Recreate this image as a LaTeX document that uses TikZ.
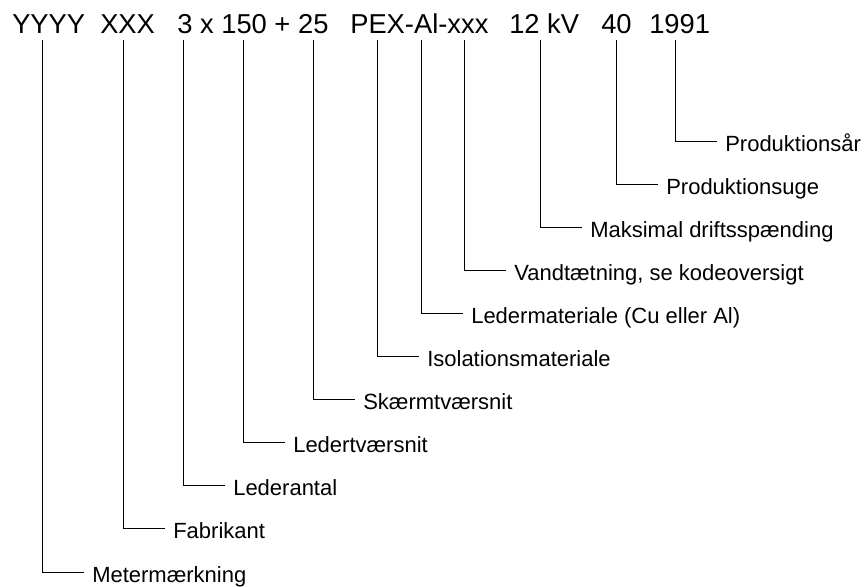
\documentclass[tikz,border=0pt]{standalone}
\usepackage{fontspec}
\setmainfont{Liberation Sans}
\tikzset{
  code/.style={anchor=base west, inner sep=0pt, font=\fontsize{20.5pt}{24pt}\selectfont},
  part/.style={anchor=west, inner ysep=0pt, inner xsep=6pt, text height=15pt, text depth=0pt,
               font=\fontsize{16.5pt}{20pt}\selectfont},
  lead/.style={line width=0.75pt}
}
\begin{document}
\begin{tikzpicture}[x=0.75pt, y=-0.75pt]
    % --- parameters (pixel units, y downwards) ---
    \def\rise{40}        % upper end of the leader lines
    \def\firstY{141.5}   % first elbow (Produktionsaar)
    \def\gap{43.05}      % distance between two elbows
    \def\arm{42}         % length of the horizontal part
    \useasboundingbox (0,0) rectangle (867,586);

    % --- the marking on the cable ---
    \node[code] (yyyy) at (12,33) {YYYY};
    \node[code] (xxx) at (100,33) {XXX};
    \node[code] (dim) at (177,33) {3 x 150 + 25};
    \node[code] (mat) at (350,33) {PEX-Al-xxx};
    \node[code] (volt) at (509,33) {12 kV};
    \node[code] (week) at (601,33) {40};
    \node[code] (year) at (649,33) {1991};

    % --- upper ends of the leaders ---
    \coordinate (mMeter) at (42,\rise);
    \coordinate (mFab) at (123,\rise);
    \coordinate (mAntal) at (183,\rise);
    \coordinate (mTvaer) at (243,\rise);
    \coordinate (mSkaerm) at (313,\rise);
    \coordinate (mIsol) at (377,\rise);
    \coordinate (mLeder) at (421,\rise);
    \coordinate (mVand) at (464,\rise);
    \coordinate (mVolt) at (540,\rise);
    \coordinate (mUge) at (616,\rise);
    \coordinate (mAar) at (675,\rise);

    % --- explanations ---
    \node[part] (aar) at (675+\arm, \firstY) {Produktionsår};
    \node[part] (uge) at (616+\arm, \firstY+\gap) {Produktionsuge};
    \node[part] (drift) at (540+\arm, \firstY+2*\gap) {Maksimal driftsspænding};
    \node[part] (vand) at (464+\arm, \firstY+3*\gap) {Vandtætning, se kodeoversigt};
    \node[part] (leder) at (421+\arm, \firstY+4*\gap) {Ledermateriale (Cu eller Al)};
    \node[part] (isol) at (377+\arm, \firstY+5*\gap) {Isolationsmateriale};
    \node[part] (skaerm) at (313+\arm, \firstY+6*\gap) {Skærmtværsnit};
    \node[part] (tvaer) at (243+\arm, \firstY+7*\gap) {Ledertværsnit};
    \node[part] (antal) at (183+\arm, \firstY+8*\gap) {Lederantal};
    \node[part] (fab) at (123+\arm, \firstY+9*\gap) {Fabrikant};
    \node[part] (meter) at (42+\arm, \firstY+10*\gap) {Metermærkning};

    % --- leaders: down, then right ---
    \draw[lead] (mAar) |- (aar.west);
    \draw[lead] (mUge) |- (uge.west);
    \draw[lead] (mVolt) |- (drift.west);
    \draw[lead] (mVand) |- (vand.west);
    \draw[lead] (mLeder) |- (leder.west);
    \draw[lead] (mIsol) |- (isol.west);
    \draw[lead] (mSkaerm) |- (skaerm.west);
    \draw[lead] (mTvaer) |- (tvaer.west);
    \draw[lead] (mAntal) |- (antal.west);
    \draw[lead] (mFab) |- (fab.west);
    \draw[lead] (mMeter) |- (meter.west);

\end{tikzpicture}
\end{document}
